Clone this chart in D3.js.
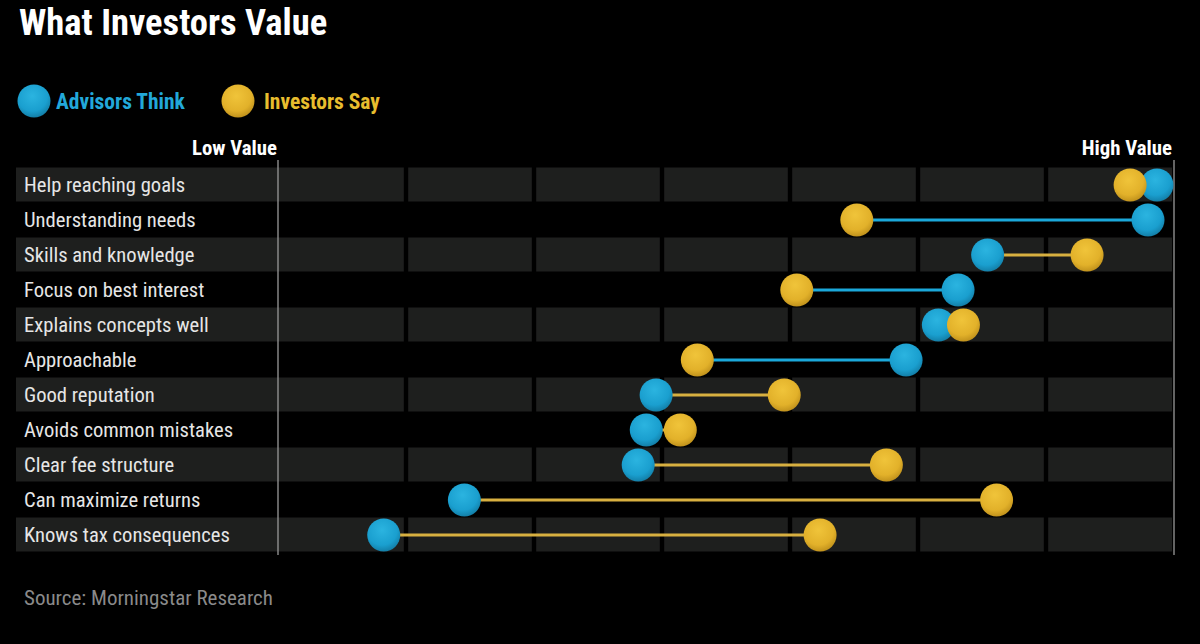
<!DOCTYPE html>
<html>
<head>
<meta charset="utf-8">
<script src="https://cdn.jsdelivr.net/npm/d3@7"></script>
<style>
  html, body { margin: 0; padding: 0; background: #000; }
  svg { display: block; }
  text { font-family: "Liberation Sans Narrow", "Roboto Condensed", "DejaVu Sans Condensed", "Arial Narrow", sans-serif; }
</style>
</head>
<body>
<div id="chart"></div>
<script>
const categories = [
  "Help reaching goals",
  "Understanding needs",
  "Skills and knowledge",
  "Focus on best interest",
  "Explains concepts well",
  "Approachable",
  "Good reputation",
  "Avoids common mistakes",
  "Clear fee structure",
  "Can maximize returns",
  "Knows tax consequences"
];
const advisorsThink = [98.1, 97.1, 79.2, 75.9, 73.7, 70.1, 42.2, 41.1, 40.2, 20.8, 11.8];
const investorsSay  = [95.1, 64.6, 90.3, 57.9, 76.5, 46.8, 56.5, 44.9, 67.9, 80.2, 60.5];
const seriesNames = ["Advisors Think", "Investors Say"];
const axisLabels = ["Low Value", "High Value"];
const titleText = "What Investors Value";
const sourceText = "Source: Morningstar Research";

const W = 1200, H = 644;
const blueLine = "#1ba8da", yellowLine = "#d8b040";
const cellFill = "#1e1f1e";

const svg = d3.select("#chart").append("svg").attr("width", W).attr("height", H);
svg.append("rect").attr("width", W).attr("height", H).attr("fill", "#000");

const defs = svg.append("defs");
function grad(id, light, base, dark) {
  const g = defs.append("radialGradient").attr("id", id)
    .attr("cx", "45%").attr("cy", "35%").attr("r", "65%");
  g.append("stop").attr("offset", "0%").attr("stop-color", light);
  g.append("stop").attr("offset", "70%").attr("stop-color", base);
  g.append("stop").attr("offset", "100%").attr("stop-color", dark);
}
grad("gBlue", "#2bb4e0", "#1a9fcf", "#137fa8");
grad("gYellow", "#f0c43a", "#e2b12a", "#c1921c");

const x = d3.scaleLinear().domain([0, 100]).range([278, 1174]);
const y = d3.scaleBand().domain(categories).range([167.5, 552.5]).paddingInner(0);
const nCols = 7;
const colEdges = d3.range(0, nCols + 1).map(k => k * 100 / nCols);

// Title
svg.append("text").attr("x", 19).attr("y", 35)
  .attr("fill", "#fff").attr("font-size", 36.5).attr("font-weight", "bold")
  .text(titleText);

// Legend
const legend = [
  { name: seriesNames[0], cx: 34, tx: 56, grad: "url(#gBlue)", col: "#22a8da" },
  { name: seriesNames[1], cx: 238, tx: 264, grad: "url(#gYellow)", col: "#e8bd2e" }
];
legend.forEach(l => {
  svg.append("circle").attr("cx", l.cx).attr("cy", 101).attr("r", 16.5).attr("fill", l.grad);
  svg.append("text").attr("x", l.tx).attr("y", 109).attr("fill", l.col)
    .attr("font-size", 21.5).attr("font-weight", "bold").text(l.name);
});

// Axis labels
svg.append("text").attr("x", 277).attr("y", 155).attr("text-anchor", "end")
  .attr("fill", "#fff").attr("font-size", 20.8).attr("font-weight", "bold").text(axisLabels[0]);
svg.append("text").attr("x", 1172).attr("y", 155).attr("text-anchor", "end")
  .attr("fill", "#fff").attr("font-size", 20.8).attr("font-weight", "bold").text(axisLabels[1]);

// Row backgrounds (alternate rows)
const shaded = categories.filter((c, i) => i % 2 === 0);
const gap = 2.2;
shaded.forEach(c => {
  const y0 = y(c), h = y.bandwidth() - 1;
  svg.append("rect").attr("x", 16).attr("y", y0).attr("width", x(colEdges[1]) - gap - 16).attr("height", h).attr("fill", cellFill);
  for (let k = 1; k < nCols; k++) {
    const x0 = x(colEdges[k]) + gap;
    const x1 = k === nCols - 1 ? x(colEdges[k + 1]) - 2 : x(colEdges[k + 1]) - gap;
    svg.append("rect").attr("x", x0).attr("y", y0).attr("width", x1 - x0).attr("height", h).attr("fill", cellFill);
  }
});

// Axis lines
[0, 100].forEach(v => {
  svg.append("line").attr("x1", x(v)).attr("x2", x(v)).attr("y1", 160).attr("y2", 555)
    .attr("stroke", "#9a9a9a").attr("stroke-width", 1.3);
});

// Category labels
svg.append("g").selectAll("text").data(categories).join("text")
  .attr("x", 24).attr("y", d => y(d) + y.bandwidth() / 2 + 7)
  .attr("fill", "#e6e6e6").attr("font-size", 20.6).text(d => d);

const rows = categories.map((c, i) => ({ c, a: advisorsThink[i], s: investorsSay[i] }));

// Connecting lines
svg.append("g").selectAll("line").data(rows).join("line")
  .attr("x1", d => x(Math.min(d.a, d.s))).attr("x2", d => x(Math.max(d.a, d.s)))
  .attr("y1", d => y(d.c) + y.bandwidth() / 2).attr("y2", d => y(d.c) + y.bandwidth() / 2)
  .attr("stroke", d => d.a > d.s ? blueLine : yellowLine).attr("stroke-width", 3);

// Dots
svg.append("g").selectAll("circle").data(rows).join("circle")
  .attr("cx", d => x(d.a)).attr("cy", d => y(d.c) + y.bandwidth() / 2)
  .attr("r", 16.5).attr("fill", "url(#gBlue)");
svg.append("g").selectAll("circle").data(rows).join("circle")
  .attr("cx", d => x(d.s)).attr("cy", d => y(d.c) + y.bandwidth() / 2)
  .attr("r", 16.5).attr("fill", "url(#gYellow)");

// Source
svg.append("text").attr("x", 24).attr("y", 605).attr("fill", "#8a8a8a")
  .attr("font-size", 21).text(sourceText);
</script>
</body>
</html>
